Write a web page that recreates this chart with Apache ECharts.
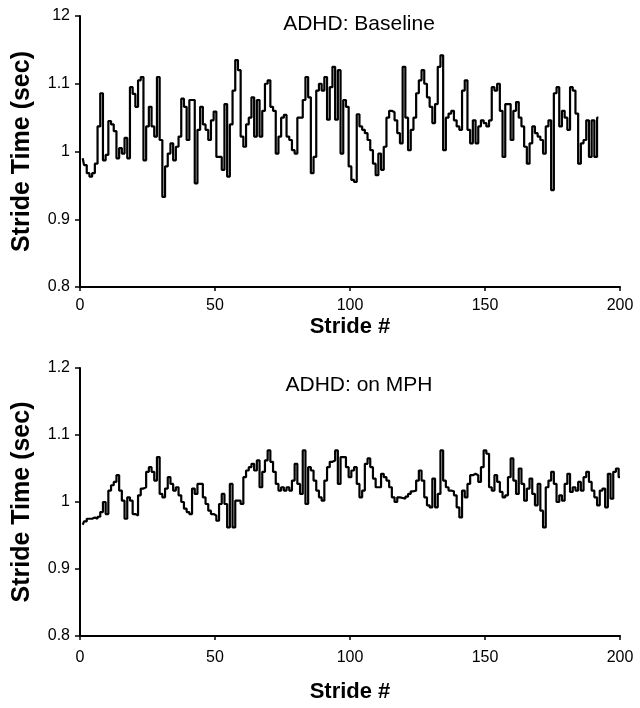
<!DOCTYPE html>
<html><head><meta charset="utf-8">
<script src="https://cdn.jsdelivr.net/npm/echarts@6/dist/echarts.min.js"></script>
<style>html,body{margin:0;padding:0;background:#fff}#c{width:640px;height:708px}</style>
</head><body><div id="c"></div>
<script>
// Stride time (sec), stride 1..192, ADHD baseline
const baselineTimes = [
0.99,0.98,0.968,0.963,0.968,0.982,1.037,1.086,0.987,0.995,
1.045,1.04,1.03,0.99,1.005,0.997,1.02,0.99,1.095,1.085,
1.066,1.105,1.11,0.987,1.037,1.066,1.037,1.022,1.11,1.017,
0.933,0.978,0.997,1.012,0.987,1.007,1.022,1.078,1.066,1.017,
1.076,1.076,0.953,1.032,1.066,1.04,1.032,1.017,1.046,1.059,
0.992,0.992,0.973,1.07,0.963,1.04,1.09,1.135,1.12,1.022,
1.007,1.04,1.05,1.08,1.022,1.076,1.022,1.06,1.10,1.105,
1.066,1.06,0.997,1.022,1.05,1.054,1.022,1.017,1.002,0.997,
1.05,1.05,1.076,1.11,1.08,0.968,0.992,1.09,1.10,1.09,
1.11,1.047,1.095,1.125,1.047,1.12,0.997,1.076,1.066,0.978,
0.958,0.955,1.055,1.037,1.032,1.027,1.017,1.002,0.982,0.965,
0.997,0.973,1.007,1.05,1.06,1.058,1.046,1.027,1.012,1.125,
1.05,1.002,1.032,1.05,1.086,1.105,1.12,1.10,1.08,1.066,
1.042,1.07,1.125,1.142,1.002,1.05,1.056,1.06,1.046,1.037,
1.032,1.09,1.105,1.032,1.012,1.046,1.012,1.037,1.046,1.042,
1.037,1.046,1.095,1.09,1.10,1.06,0.992,1.07,1.07,1.017,
1.06,1.073,1.05,1.037,1.007,0.982,1.012,1.037,1.027,1.022,
1.017,0.997,1.037,1.046,0.943,1.086,1.095,1.037,1.06,1.05,
1.032,1.095,1.09,1.056,0.982,1.012,1.017,1.046,0.992,1.046,
0.992,1.05
];
// Stride time (sec), stride 1..200, ADHD on MPH
const mphTimes = [
0.966,0.971,0.975,0.975,0.977,0.975,0.978,0.985,1.0,0.982,
1.017,1.025,1.03,1.04,1.017,1.002,0.975,1.007,1.002,0.982,
0.98,1.01,1.02,1.022,1.045,1.052,1.045,1.032,1.067,1.012,
1.007,1.02,1.037,1.027,1.017,1.022,1.01,1.0,0.99,0.985,
0.982,1.02,1.012,1.027,1.027,1.007,0.997,0.987,0.982,0.98,
0.972,0.997,1.012,0.997,0.962,1.027,0.962,1.002,1.002,0.997,
1.037,1.047,1.052,1.057,1.047,1.062,1.022,1.045,1.062,1.077,
1.06,1.045,1.027,1.017,1.022,1.017,1.022,1.017,1.032,1.057,
1.027,1.012,1.077,0.997,1.052,1.047,1.032,1.017,1.007,1.002,
1.032,1.052,1.06,1.062,1.077,1.027,1.067,1.067,1.052,1.037,
1.047,1.052,1.027,1.007,1.017,1.057,1.065,1.052,1.035,1.022,
1.022,1.042,1.037,1.032,1.022,1.007,1.0,1.007,1.006,1.005,
1.008,1.012,1.016,1.017,1.032,1.047,1.032,1.007,0.995,0.992,
1.035,0.992,1.012,1.077,1.032,1.022,1.017,1.016,1.01,0.992,
0.977,1.017,1.007,1.027,1.04,1.042,1.04,1.03,1.052,1.077,
1.072,1.022,1.017,1.04,1.03,1.015,1.007,1.01,1.037,1.065,
1.032,1.012,1.05,1.027,1.002,1.02,1.035,1.012,0.995,1.027,
0.987,0.962,1.022,1.032,1.045,1.027,1.0,1.01,1.002,1.027,
1.042,1.015,1.022,1.017,1.03,1.017,1.037,1.045,1.03,1.017,
1.007,0.995,1.017,1.02,0.992,1.042,1.005,1.045,1.05,1.037
];
const xTicks = [0, 50, 100, 150, 200];
const yTicks = [0.8, 0.9, 1, 1.1, 1.2];
const topYLabels = ['0.8', '0.9', '1', '1.1', '12'];
const bottomYLabels = ['0.8', '0.9', '1', '1.1', '1.2'];
const panelTitles = ['ADHD: Baseline', 'ADHD: on MPH'];
const xName = 'Stride #';
const yName = 'Stride Time (sec)';

const toPairs = arr => arr.map((v, i) => [i + 1, v]);
const font = 'Liberation Sans, Arial, sans-serif';

function xAxisFor(gi) {
  return {
    gridIndex: gi, type: 'value', min: xTicks[0], max: xTicks[xTicks.length - 1], interval: 50,
    name: xName, nameLocation: 'middle', nameGap: gi === 0 ? 29 : 45,
    nameTextStyle: { fontFamily: font, fontSize: 22, fontWeight: 'bold', color: '#000' },
    axisLine: { lineStyle: { color: '#000', width: 2 } },
    axisTick: { show: true, length: 4, lineStyle: { color: '#000', width: 1.5 } },
    axisLabel: { fontFamily: font, fontSize: 16, color: '#000', margin: gi === 0 ? 11 : 14 },
    splitLine: { show: false }
  };
}
function yAxisFor(gi, labels) {
  return {
    gridIndex: gi, type: 'value', min: 0.8, max: 1.2, interval: 0.1,
    name: yName, nameLocation: 'middle', nameGap: 45,
    nameTextStyle: { fontFamily: font, fontSize: 25, fontWeight: 'bold', color: '#000' },
    axisLine: { show: true, lineStyle: { color: '#000', width: 2 } },
    axisTick: { show: true, length: 5, lineStyle: { color: '#000', width: 1.5 } },
    axisLabel: {
      fontFamily: font, fontSize: 16, color: '#000', margin: 10,
      formatter: v => {
        const idx = yTicks.findIndex(t => Math.abs(t - v) < 1e-6);
        return idx >= 0 ? labels[idx] : '';
      }
    },
    splitLine: { show: false }
  };
}

const chart = echarts.init(document.getElementById('c'), null, { renderer: 'canvas' });
chart.setOption({
  animation: false,
  backgroundColor: '#fff',
  title: [
    { text: panelTitles[0], left: 354, top: 9, textAlign: 'center',
      textStyle: { fontFamily: font, fontSize: 21, fontWeight: 'normal', color: '#000' } },
    { text: panelTitles[1], left: 354, top: 370, textAlign: 'center',
      textStyle: { fontFamily: font, fontSize: 21, fontWeight: 'normal', color: '#000' } }
  ],
  grid: [
    { left: 80, right: 20, top: 16, height: 271 },
    { left: 80, right: 20, top: 368, height: 268 }
  ],
  xAxis: [xAxisFor(0), xAxisFor(1)],
  yAxis: [yAxisFor(0, topYLabels), yAxisFor(1, bottomYLabels)],
  series: [
    { type: 'line', xAxisIndex: 0, yAxisIndex: 0, data: toPairs(baselineTimes), step: 'middle',
      showSymbol: false, lineStyle: { color: '#000', width: 2.2 } },
    { type: 'line', xAxisIndex: 1, yAxisIndex: 1, data: toPairs(mphTimes), step: 'middle',
      showSymbol: false, lineStyle: { color: '#000', width: 2.2 } }
  ]
});
</script>
</body></html>
